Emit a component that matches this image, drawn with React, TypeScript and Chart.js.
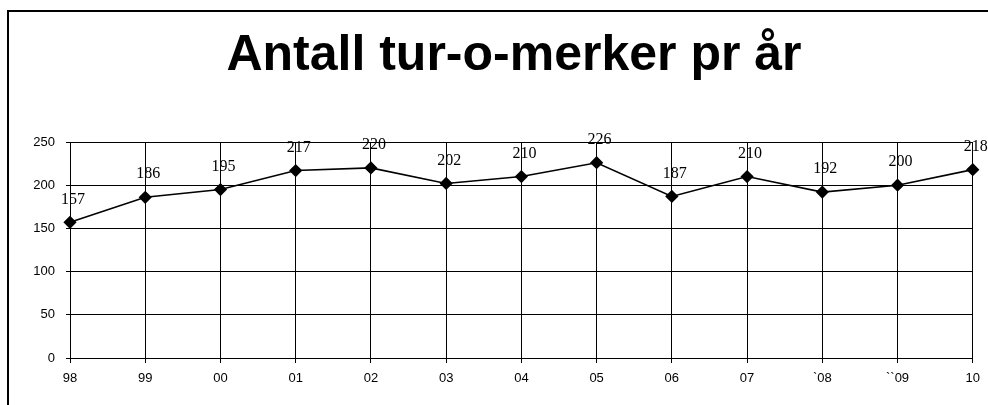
import React, { useEffect, useRef } from "react";
import { Chart, registerables } from "chart.js";

Chart.register(...registerables);

const TITLE = "Antall tur-o-merker pr år";
const YEARS = ["98", "99", "00", "01", "02", "03", "04", "05", "06", "07", "`08", "``09", "10"];
const COUNTS = [157, 186, 195, 217, 220, 202, 210, 226, 187, 210, 192, 200, 218];
const Y_TICKS = [0, 50, 100, 150, 200, 250];

const decorPlugin = {
  id: "decor",
  beforeDraw(chart: any) {
    const ctx = chart.ctx;
    ctx.save();
    ctx.fillStyle = "#ffffff";
    ctx.fillRect(0, 0, chart.width, chart.height);
    // frame
    ctx.strokeStyle = "#000";
    ctx.lineWidth = 2;
    ctx.beginPath();
    ctx.moveTo(8, chart.height);
    ctx.lineTo(8, 11);
    ctx.lineTo(chart.width, 11);
    ctx.stroke();
    // title
    ctx.fillStyle = "#000";
    ctx.font = "bold 50px 'Liberation Sans', Arial, sans-serif";
    ctx.textAlign = "center";
    ctx.textBaseline = "alphabetic";
    ctx.fillText(TITLE, 514, 70);
    ctx.restore();
  },
  afterDatasetsDraw(chart: any) {
    const ctx = chart.ctx;
    const meta = chart.getDatasetMeta(0);
    const data = chart.data.datasets[0].data;
    ctx.save();
    ctx.fillStyle = "#000";
    ctx.font = "16px 'Liberation Serif', 'Times New Roman', serif";
    ctx.textAlign = "center";
    ctx.textBaseline = "middle";
    meta.data.forEach((pt: any, i: number) => {
      ctx.fillText(String(data[i]), pt.x + 3, pt.y - 23);
    });
    ctx.restore();
  },
};

export default function App() {
  const ref = useRef<HTMLCanvasElement>(null);
  useEffect(() => {
    if (!ref.current) return;
    const chart = new Chart(ref.current, {
      type: "line",
      data: {
        labels: YEARS,
        datasets: [
          {
            data: COUNTS,
            borderColor: "#000",
            borderWidth: 1.6,
            backgroundColor: "#000",
            pointStyle: "rectRot",
            pointRadius: 5.5,
            pointBackgroundColor: "#000",
            pointBorderColor: "#000",
            tension: 0,
            clip: false as any,
          },
        ],
      },
      options: {
        animation: false,
        responsive: false,
        events: [],
        layout: { padding: { top: 142, right: 12, left: 0, bottom: 0 } },
        plugins: {
          legend: { display: false },
          title: { display: false },
          tooltip: { enabled: false },
        },
        scales: {
          x: {
            offset: false,
            grid: { color: "#000", lineWidth: 1, tickLength: 5, drawTicks: true },
            border: { color: "#000", width: 1 },
            ticks: {
              color: "#000",
              padding: 8,
              maxRotation: 0,
              autoSkip: false,
              font: { family: "'Liberation Sans', Arial, sans-serif", size: 13 },
            },
            afterFit(scale: any) {
              scale.height = 47;
            },
          },
          y: {
            min: 0,
            max: 250,
            afterBuildTicks(scale: any) {
              scale.ticks = Y_TICKS.map((v) => ({ value: v }));
            },
            grid: { color: "#000", lineWidth: 1, tickLength: 4 },
            border: { color: "#000", width: 1 },
            ticks: {
              color: "#000",
              padding: 11,
              font: { family: "'Liberation Sans', Arial, sans-serif", size: 13 },
            },
            afterFit(scale: any) {
              scale.width = 70;
            },
          },
        },
      },
      plugins: [decorPlugin],
    });
    return () => chart.destroy();
  }, []);
  return (
    <div style={{ position: "fixed", left: 0, top: 0, width: 988, height: 405, background: "#fff" }}>
      <canvas ref={ref} width={988} height={405} style={{ display: "block" }} />
    </div>
  );
}
